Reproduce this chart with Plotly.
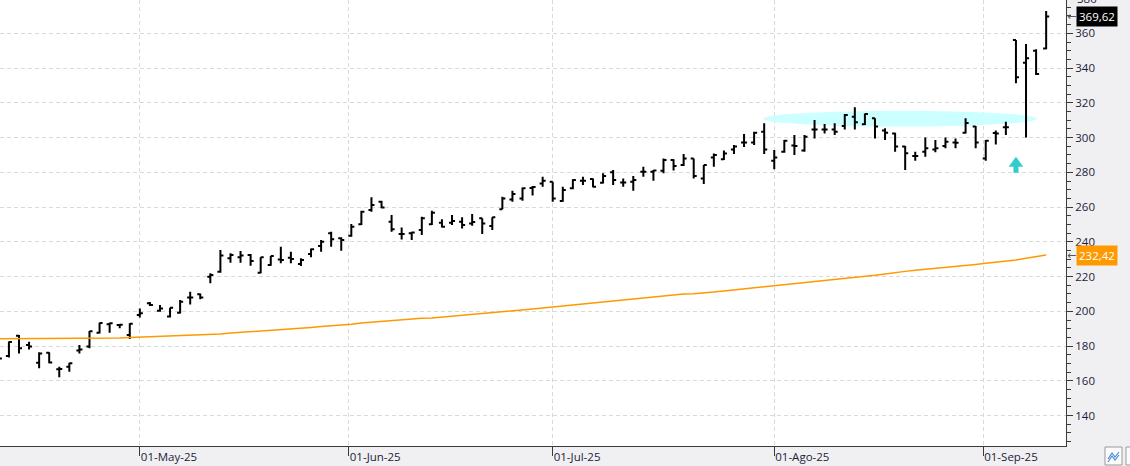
import pandas as pd
import plotly.graph_objects as go

# ---------------- data ----------------
HOLIDAYS = ["2025-04-18", "2025-05-26", "2025-06-19", "2025-07-04", "2025-09-01"]
DATES = [d for d in pd.bdate_range("2025-04-10", "2025-09-10") if d.strftime("%Y-%m-%d") not in HOLIDAYS]

OPEN = [175.0, 174.3, 186.0, 180.6, 170.4, 176.2, 166.6, 168.1, 177.4, 179.7,
        187.7, 192.5, 192.1, 186.4, 197.9, 204.6, 200.4, 197.0, 199.2, 208.0,
        209.9, 219.9, 222.8, 230.5, 231.1, 232.4, 222.2, 226.6, 229.9, 230.9,
        227.2, 233.0, 237.6, 244.9, 242.0, 243.5, 250.1, 258.3, 263.1, 251.6,
        244.5, 244.9, 246.8, 250.1, 251.0, 251.0, 251.6, 250.6, 253.5, 249.1,
        258.7, 264.4, 265.0, 271.0, 273.5, 274.6, 263.5, 270.8, 275.2, 276.1,
        274.0, 280.0, 274.2, 274.6, 280.4, 280.4, 280.9, 287.1, 284.2, 288.0,
        276.5, 288.6, 287.5, 293.2, 297.2, 297.2, 303.4, 286.7, 291.9, 295.5,
        292.5, 304.7, 304.7, 304.7, 306.6, 312.0, 307.6, 311.1, 304.0, 302.4,
        294.8, 289.4, 291.9, 293.2, 295.1, 297.1, 302.8, 306.3, 288.0, 302.6,
        305.9, 356.2, 343.1, 350.0, 351.3]
HIGH = [176.0, 182.6, 186.4, 182.5, 176.4, 176.4, 168.1, 170.4, 180.6, 188.7,
        193.5, 193.5, 192.7, 193.1, 201.7, 205.3, 203.6, 202.1, 206.5, 211.3,
        210.3, 221.9, 235.3, 233.4, 234.7, 233.0, 231.1, 231.8, 237.2, 234.3,
        230.5, 236.2, 241.0, 245.8, 242.6, 250.2, 257.9, 265.6, 263.7, 255.4,
        248.3, 245.8, 254.5, 257.9, 253.0, 255.4, 254.1, 256.0, 253.5, 254.1,
        266.0, 269.4, 271.3, 272.1, 277.5, 274.6, 271.7, 276.0, 277.5, 276.5,
        279.4, 281.3, 276.5, 277.9, 283.2, 281.3, 288.0, 287.5, 290.5, 288.0,
        284.2, 290.9, 292.5, 295.7, 302.0, 303.4, 308.2, 292.8, 298.6, 301.5,
        301.5, 310.1, 307.8, 308.2, 313.6, 317.4, 313.9, 311.1, 305.3, 302.8,
        295.1, 291.9, 300.1, 298.6, 300.1, 299.5, 311.1, 306.7, 298.6, 304.1,
        309.1, 356.2, 353.8, 350.8, 372.8]
LOW = [171.5, 173.5, 175.8, 178.1, 167.2, 170.1, 162.0, 165.3, 175.8, 178.7,
       187.3, 187.7, 190.2, 184.1, 196.5, 203.1, 199.8, 196.5, 198.8, 204.0,
       206.9, 216.1, 222.2, 228.0, 228.0, 226.3, 221.9, 226.3, 227.6, 227.6,
       226.1, 231.1, 234.3, 237.2, 234.9, 242.9, 249.7, 257.3, 259.3, 245.8,
       241.4, 241.0, 243.9, 249.7, 248.3, 249.7, 247.7, 249.3, 244.5, 246.8,
       258.7, 263.1, 263.7, 266.6, 271.7, 263.1, 263.1, 270.2, 272.7, 271.4,
       273.6, 272.7, 271.7, 269.4, 277.5, 275.2, 279.4, 281.0, 283.6, 276.5,
       273.3, 283.2, 287.1, 290.5, 294.6, 295.7, 290.5, 281.7, 291.3, 289.9,
       291.9, 299.5, 302.4, 301.5, 304.7, 304.7, 307.2, 299.5, 298.6, 291.9,
       281.3, 286.7, 289.0, 291.5, 293.8, 293.8, 302.4, 293.8, 286.7, 296.0,
       301.5, 331.2, 300.1, 336.0, 350.8]
CLOSE = [172.9, 182.3, 178.7, 179.7, 175.8, 170.6, 166.8, 170.1, 178.1, 188.5,
         193.3, 193.1, 192.3, 192.9, 198.9, 203.6, 201.7, 202.0, 205.5, 208.0,
         208.0, 220.9, 232.2, 232.4, 232.2, 228.9, 231.1, 231.8, 229.5, 230.1,
         229.5, 235.7, 240.1, 241.5, 241.0, 248.7, 257.3, 261.2, 259.8, 247.2,
         244.5, 245.3, 253.5, 256.8, 248.7, 252.0, 249.7, 251.4, 250.6, 254.1,
         265.0, 267.5, 270.8, 271.5, 275.2, 265.0, 269.8, 275.6, 275.2, 271.7,
         277.9, 275.6, 274.2, 275.6, 280.4, 281.0, 287.1, 283.6, 288.0, 277.9,
         284.2, 290.0, 290.9, 294.8, 297.2, 302.8, 293.2, 288.6, 298.2, 295.1,
         300.5, 304.7, 304.7, 303.4, 313.0, 308.8, 313.6, 306.3, 302.8, 294.8,
         291.0, 289.4, 293.8, 293.8, 297.6, 297.0, 308.4, 297.2, 298.2, 302.4,
         306.0, 334.7, 345.6, 336.6, 369.62]
SMA = [184.2, 184.2, 184.2, 184.4, 184.4, 184.4, 184.4, 184.4, 184.4, 184.4,
       184.4, 184.4, 184.6, 185.0, 185.2, 185.4, 185.8, 185.9, 186.1, 186.4,
       186.5, 186.8, 187.0, 187.5, 187.9, 188.1, 188.3, 188.9, 189.4, 189.7,
       190.2, 190.7, 191.2, 191.6, 192.0, 192.6, 193.3, 193.8, 194.3, 194.5,
       195.0, 195.6, 196.0, 196.2, 196.7, 197.3, 197.8, 198.0, 198.4, 199.0,
       199.6, 200.2, 200.8, 201.3, 201.9, 202.5, 203.1, 203.6, 204.2, 204.8,
       205.4, 205.9, 206.5, 207.2, 207.7, 208.2, 208.8, 209.4, 210.0, 210.1,
       210.4, 211.1, 211.7, 212.3, 212.8, 213.5, 213.8, 214.4, 215.1, 215.7,
       216.3, 217.1, 217.8, 218.4, 219.0, 219.5, 219.9, 220.7, 221.5, 222.4,
       223.0, 223.6, 224.1, 224.7, 225.3, 225.9, 226.5, 227.0, 227.6, 228.2,
       228.8, 229.6, 230.5, 231.5, 232.42]

MONTH_STARTS = ["2025-05-01", "2025-06-01", "2025-07-01", "2025-08-01", "2025-09-01"]
MONTH_LABELS = ["01-May-25", "01-Jun-25", "01-Jul-25", "01-Ago-25", "01-Sep-25"]

Y_RANGE = [122.5, 379.17]
X_RANGE = [0.114, 105.97]
Y_TICKS = [140, 160, 180, 200, 220, 240, 260, 280, 300, 320, 340, 360]

# highlighted zone (ellipse) and signal arrow
ZONE = dict(x0=75.9, x1=103.1, y0=306.3, y1=315.4)
ARROW_X, ARROW_BASE, ARROW_TIP = 101.0, 279.8, 289.0

# ---------------- derived ----------------
X = list(range(len(DATES)))
tick_pos = []
for ms in MONTH_STARTS:
    d = pd.Timestamp(ms)
    i = next(k for k, dd in enumerate(DATES) if dd >= d)
    tick_pos.append(i if DATES[i] == d else i - 0.25)

fmt = lambda v: f"{v:.2f}".replace(".", ",")
FONT = "Open Sans"
TXT = "#1c1c3a"
AX = "#3a3a3a"
GRID = "#d9d9d9"

fig = go.Figure()
fig.add_trace(go.Scatter(x=X, y=SMA, mode="lines", line=dict(color="#ff9900", width=1.5),
                         hoverinfo="skip", showlegend=False))
fig.add_trace(go.Ohlc(x=X, open=OPEN, high=HIGH, low=LOW, close=CLOSE,
                      increasing=dict(line=dict(color="black", width=2)),
                      decreasing=dict(line=dict(color="black", width=2)),
                      tickwidth=0.3, showlegend=False, hoverinfo="skip"))

# ellipse zone
fig.add_shape(type="circle", xref="x", yref="y", layer="between",
              fillcolor="#ccffff", line=dict(width=0), **ZONE)
# arrow
hw, sw = 0.72, 0.25
head_y = ARROW_BASE + (ARROW_TIP - ARROW_BASE) * 0.37
path = (f"M {ARROW_X - sw} {ARROW_BASE} L {ARROW_X - sw} {head_y} L {ARROW_X - hw} {head_y} "
        f"L {ARROW_X} {ARROW_TIP} L {ARROW_X + hw} {head_y} L {ARROW_X + sw} {head_y} "
        f"L {ARROW_X + sw} {ARROW_BASE} Z")
fig.add_shape(type="path", path=path, xref="x", yref="y", fillcolor="#33cccc",
              line=dict(width=0), layer="above")

# last value labels
for val, bg in [(CLOSE[-1], "black"), (SMA[-1], "#ff9900")]:
    fig.add_annotation(xref="paper", yref="y", x=1, y=val, xanchor="left", yanchor="middle",
                       xshift=10, text=fmt(val), showarrow=False, bgcolor=bg, borderpad=2,
                       font=dict(family=FONT, size=11.5, color="white"))
    fig.add_annotation(xref="paper", yref="y", x=1, y=val, xanchor="left", yanchor="middle",
                       xshift=0, text="←", showarrow=False, borderpad=0,
                       font=dict(family="DejaVu Sans", size=11, color="#555555"))

# partially visible 380 label at the top
y380 = (380 - Y_RANGE[0]) / (Y_RANGE[1] - Y_RANGE[0])
fig.add_annotation(xref="paper", yref="paper", x=1, y=y380, xanchor="left", yanchor="middle",
                   xshift=9, text="380", showarrow=False,
                   font=dict(family=FONT, size=11.5, color=TXT))

# small toolbar button bottom right
W, H = 1066.0, 446.0
fig.add_shape(type="rect", xref="paper", yref="paper",
              x0=1105 / W, x1=1122 / W, y0=(H - 465) / H, y1=(H - 447) / H,
              fillcolor="#fbfbfb", line=dict(color="#9a9a9a", width=1), layer="above")
fig.add_shape(type="path", xref="paper", yref="paper", layer="above",
              path=" ".join(["M", f"{1108/W} {(H-459)/H}", "L", f"{1112/W} {(H-453)/H}",
                             "L", f"{1115/W} {(H-457)/H}", "L", f"{1119/W} {(H-452)/H}"]),
              line=dict(color="#4a8fd6", width=1.2))
fig.add_shape(type="path", xref="paper", yref="paper", layer="above",
              path=" ".join(["M", f"{1108/W} {(H-462)/H}", "L", f"{1112/W} {(H-456)/H}",
                             "L", f"{1115/W} {(H-460)/H}", "L", f"{1119/W} {(H-455)/H}"]),
              line=dict(color="#4a8fd6", width=1.2))
fig.add_shape(type="rect", xref="paper", yref="paper",
              x0=1126 / W, x1=1140 / W, y0=(H - 465) / H, y1=(H - 447) / H,
              fillcolor="#fbfbfb", line=dict(color="#9a9a9a", width=1), layer="above")

fig.update_layout(
    width=1130, height=466,
    margin=dict(l=0, r=64, t=0, b=20),
    paper_bgcolor="#f0f0f2", plot_bgcolor="white",
    showlegend=False, hovermode=False,
    xaxis=dict(range=X_RANGE, tickmode="array", tickvals=tick_pos, ticktext=MONTH_LABELS,
               ticks="outside", ticklen=9, tickcolor=AX, tickwidth=1,
               showline=True, linecolor=AX, linewidth=1, zeroline=False,
               showgrid=True, gridcolor=GRID, griddash="4px,3px", gridwidth=1,
               ticklabelposition="outside right",
               tickfont=dict(family=FONT, size=11.5, color=TXT),
               rangeslider=dict(visible=False), fixedrange=True),
    yaxis=dict(range=Y_RANGE, side="right", tickmode="array", tickvals=Y_TICKS,
               ticks="outside", ticklen=6, tickcolor=AX, tickwidth=1,
               showline=True, linecolor=AX, linewidth=1, zeroline=False,
               showgrid=True, gridcolor=GRID, griddash="4px,3px", gridwidth=1,
               minor=dict(dtick=5, tick0=0, ticks="outside", ticklen=4, tickcolor=AX, showgrid=False),
               tickfont=dict(family=FONT, size=11.5, color=TXT), fixedrange=True),
)

fig.write_html("out.html")
